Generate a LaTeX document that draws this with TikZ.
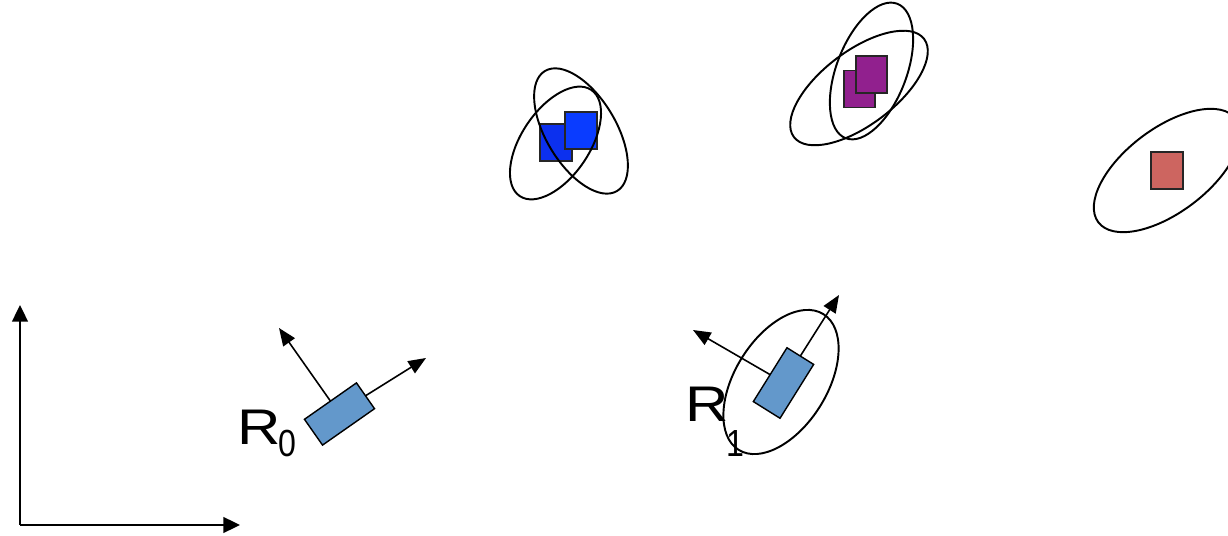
\documentclass[tikz,border=0pt]{standalone}
\usepackage{fontspec}
\setmainfont{Liberation Sans}
\usetikzlibrary{arrows.meta}

\definecolor{robotblue}{RGB}{99,152,203}
\definecolor{lmblueback}{RGB}{12,48,238}
\definecolor{lmbluefront}{RGB}{10,60,255}
\definecolor{lmpurple}{RGB}{145,32,142}
\definecolor{lmred}{RGB}{205,101,96}

\newcommand{\posename}[2]{%
  \fontsize{28.5}{28.5}\selectfont\scalebox{1.2}[1]{R}\kern-1.3pt%
  \raisebox{#2}{\fontsize{21.5}{21.5}\selectfont\scalebox{0.85}[1]{#1}}}

\tikzset{
  robot/.style={draw=black, line width=0.8pt, fill=robotblue,
    minimum width=1.27cm, minimum height=0.63cm, inner sep=0pt, outer sep=0pt},
  landmark/.style={draw=black!85, line width=1pt,
    minimum width=0.63cm, minimum height=0.74cm, inner sep=0pt, outer sep=0pt},
  uncert/.style={draw=black, line width=1.1pt},
  heading/.style={line width=0.9pt, -{Triangle[length=10pt, width=8pt]}},
  axis/.style={line width=1.1pt, -{Triangle[length=9.5pt, width=9pt]}},
  rlabel/.style={anchor=base west, inner sep=0pt},
}

\begin{document}
\begin{tikzpicture}[x=0.02cm, y=-0.02cm]

  \clip (0,0) rectangle (1228,536);

  % ================================================================
  % World frame
  % ================================================================

  \coordinate (orig) at (20,525);
  \coordinate (xtip) at (240,525);
  \coordinate (ytip) at (20,305);
  \draw[axis] (orig) -- (xtip);
  \draw[axis] (orig) -- (ytip);

  % ================================================================
  % Robot pose R0
  % ================================================================

  \node[robot, rotate=35] (r0) at (339.5,414) {};
  \coordinate (r0fwd) at (426,358);
  \coordinate (r0side) at (279,328);
  \draw[heading] (r0.east) -- (r0fwd);
  \draw[heading] (r0.north) -- (r0side);
  \node[rlabel] (lbl0) at (237,445) {\posename{0}{-6.8pt}};

  % ================================================================
  % Robot pose R1 (with uncertainty)
  % ================================================================

  \node[robot, rotate=58] (r1) at (783.5,383) {};
  \coordinate (r1fwd) at (839,295);
  \coordinate (r1side) at (693,330);
  \draw[heading] (r1.east) -- (r1fwd);
  \draw[heading] (r1.north) -- (r1side);
  \draw[uncert, rotate around={58:(781,382)}]
    (781,382) ellipse [x radius=80, y radius=46];
  \node[rlabel] (lbl1) at (685,422) {\posename{1}{-19.5pt}};

  % ================================================================
  % Landmarks: blue pair
  % ================================================================

  \node[landmark, fill=lmblueback] (lmb0) at (556,142.5) {};
  \node[landmark, fill=lmbluefront] (lmb1) at (581,130.5) {};
  \draw[uncert, rotate around={-59:(581,131)}]
    (581,131) ellipse [x radius=70, y radius=35];
  \draw[uncert, rotate around={56:(555.5,143)}]
    (555.5,143) ellipse [x radius=64, y radius=34];

  % ================================================================
  % Landmarks: purple pair
  % ================================================================

  \node[landmark, fill=lmpurple] (lmp0) at (859.5,89) {};
  \node[landmark, fill=lmpurple] (lmp1) at (871.5,74.5) {};
  \draw[uncert, rotate around={69:(871.5,71)}]
    (871.5,71) ellipse [x radius=72, y radius=35];
  \draw[uncert, rotate around={37:(859,88)}]
    (859,88) ellipse [x radius=81.5, y radius=37];

  % ================================================================
  % Landmark: red
  % ================================================================

  \node[landmark, fill=lmred] (lmr) at (1167,170.5) {};
  \draw[uncert, rotate around={37:(1167,170.5)}]
    (1167,170.5) ellipse [x radius=86, y radius=42];

\end{tikzpicture}
\end{document}
